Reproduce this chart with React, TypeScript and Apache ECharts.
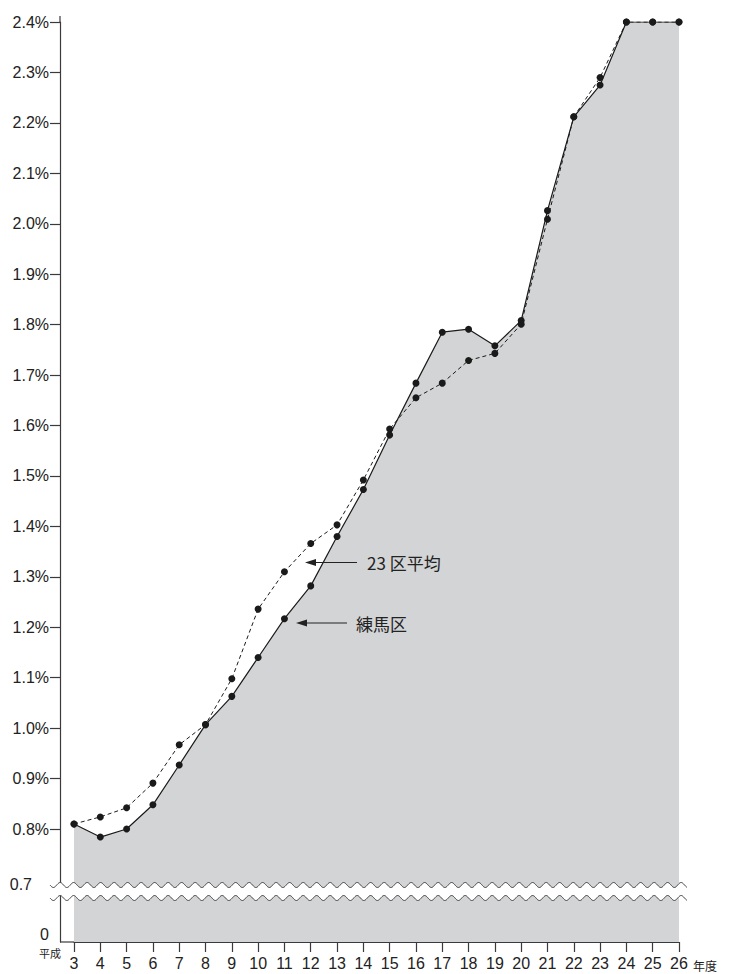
import React, { useEffect, useRef } from 'react';
import * as echarts from 'echarts';

const years = ['3', '4', '5', '6', '7', '8', '9', '10', '11', '12', '13', '14', '15', '16', '17', '18', '19', '20', '21', '22', '23', '24', '25', '26'];

// 練馬区 (solid line, shaded)
const nerima = [0.810, 0.784, 0.800, 0.848, 0.927, 1.007, 1.063, 1.140, 1.217, 1.282, 1.380, 1.473, 1.581, 1.684, 1.785, 1.791, 1.758, 1.808, 2.026, 2.212, 2.275, 2.400, 2.400, 2.400];

// 23区平均 (dashed line)
const ku23avg = [0.810, 0.824, 0.842, 0.891, 0.967, 1.007, 1.098, 1.236, 1.310, 1.366, 1.403, 1.492, 1.593, 1.655, 1.684, 1.729, 1.743, 1.801, 2.009, 2.212, 2.290, 2.400, 2.400, 2.400];

const yTickValues = [0.8, 0.9, 1.0, 1.1, 1.2, 1.3, 1.4, 1.5, 1.6, 1.7, 1.8, 1.9, 2.0, 2.1, 2.2, 2.3, 2.4];
const yTickTexts = ['0.8%', '0.9%', '1.0%', '1.1%', '1.2%', '1.3%', '1.4%', '1.5%', '1.6%', '1.7%', '1.8%', '1.9%', '2.0%', '2.1%', '2.2%', '2.3%', '2.4%'];
// labels below the axis break (position on the broken scale, text)
const breakLabelValues = [0.59, 0.69];
const breakLabelTexts = ['0', '0.7'];

const Y_MIN = 0.576;
const Y_MAX = 2.4;

const FONT = '"Liberation Sans", "Noto Sans CJK JP", sans-serif';
const JP_FONT = '"Noto Sans CJK JP", "Liberation Sans", sans-serif';

function wave(x0: number, x1: number, yc: number, amp: number, period: number) {
  const pts: number[][] = [];
  for (let x = x0; x <= x1; x += 0.5) {
    pts.push([x, yc + amp * Math.sin((2 * Math.PI * (x - x0)) / period)]);
  }
  return pts;
}

export default function App() {
  const ref = useRef<HTMLDivElement>(null);
  useEffect(() => {
    const chart = echarts.init(ref.current as HTMLDivElement, null, { renderer: 'svg' });
    const labelValues = [...breakLabelValues, ...yTickValues];
    const labelTexts = [...breakLabelTexts, ...yTickTexts];
    const upper = wave(50, 687, 885, 2.5, 13.5);
    const lower = wave(50, 687, 898, 2.5, 13.5);
    const band = [...upper, ...lower.slice().reverse()];
    const ink = '#222';
    const axisColor = '#3a3a3a';

    chart.setOption({
      animation: false,
      backgroundColor: '#fff',
      textStyle: { fontFamily: FONT },
      grid: { left: 74, right: 59, top: 22, bottom: 32, containLabel: false, outerBoundsMode: 'none' },
      xAxis: {
        type: 'category',
        data: years,
        boundaryGap: false,
        axisLine: { show: true, onZero: false, lineStyle: { color: axisColor, width: 1.2 } },
        axisTick: { show: true, length: 10, interval: 0, lineStyle: { color: axisColor, width: 1.2 } },
        axisLabel: { interval: 0, margin: 13, fontSize: 16, color: ink, fontFamily: FONT },
        splitLine: { show: false },
      },
      yAxis: {
        type: 'value',
        min: Y_MIN,
        max: Y_MAX,
        offset: 14,
        axisLine: { show: true, lineStyle: { color: axisColor, width: 1.2 } },
        axisTick: { show: true, length: 10, customValues: yTickValues, lineStyle: { color: axisColor, width: 1.2 } },
        axisLabel: {
          customValues: labelValues,
          margin: 11,
          fontSize: 16,
          color: ink,
          fontFamily: FONT,
          formatter: (v: number) => {
            const i = labelValues.findIndex((u) => Math.abs(u - v) < 1e-6);
            const t = i >= 0 ? labelTexts[i] : '';
            return t === '0.7' ? `{b|${t}}` : t;
          },
          rich: {
            b: { padding: [0, 17, 0, 0], fontSize: 16, color: ink, fontFamily: FONT },
          },
        },
        splitLine: { show: false },
      },
      series: [
        {
          name: '練馬区',
          type: 'line',
          data: nerima,
          symbol: 'circle',
          symbolSize: 7,
          showSymbol: true,
          showAllSymbol: true,
          itemStyle: { color: '#1a1a1a' },
          lineStyle: { color: '#1a1a1a', width: 1.2 },
          areaStyle: { color: '#d3d4d6', opacity: 1, origin: 'start' },
          z: 2,
        },
        {
          name: '23区平均',
          type: 'line',
          data: ku23avg,
          symbol: 'circle',
          symbolSize: 7,
          showSymbol: true,
          showAllSymbol: true,
          itemStyle: { color: '#1a1a1a' },
          lineStyle: { color: '#1a1a1a', width: 1, type: [4, 3] },
          z: 3,
        },
      ],
      graphic: [
        { type: 'polygon', shape: { points: band }, style: { fill: '#fff' }, z: 100 },
        { type: 'polyline', shape: { points: upper }, style: { stroke: axisColor, lineWidth: 1, fill: null }, z: 101 },
        { type: 'polyline', shape: { points: lower }, style: { stroke: axisColor, lineWidth: 1, fill: null }, z: 101 },
        { type: 'line', shape: { x1: 60, y1: 942, x2: 74, y2: 942 }, style: { stroke: axisColor, lineWidth: 1.2 }, z: 101 },
        { type: 'line', shape: { x1: 60, y1: 16, x2: 60, y2: 22 }, style: { stroke: axisColor, lineWidth: 1.2 }, z: 101 },
        // arrow: 23区平均
        { type: 'line', shape: { x1: 357, y1: 562.5, x2: 314, y2: 562.5 }, style: { stroke: ink, lineWidth: 1.2 }, z: 102 },
        { type: 'polygon', shape: { points: [[305, 562.5], [316, 559], [316, 566]] }, style: { fill: ink }, z: 102 },
        { type: 'text', x: 367, y: 562.5, style: { text: '23 区平均', fontSize: 17, fill: ink, fontFamily: JP_FONT, verticalAlign: 'middle', align: 'left' }, z: 102 },
        // arrow: 練馬区
        { type: 'line', shape: { x1: 347, y1: 623, x2: 305, y2: 623 }, style: { stroke: ink, lineWidth: 1.2 }, z: 102 },
        { type: 'polygon', shape: { points: [[296, 623], [307, 619.5], [307, 626.5]] }, style: { fill: ink }, z: 102 },
        { type: 'text', x: 356, y: 623, style: { text: '練馬区', fontSize: 17, fill: ink, fontFamily: JP_FONT, verticalAlign: 'middle', align: 'left' }, z: 102 },
        // era / unit labels
        { type: 'text', x: 50, y: 953, style: { text: '平成', fontSize: 11, fill: ink, fontFamily: JP_FONT, verticalAlign: 'middle', align: 'center' }, z: 102 },
        { type: 'text', x: 693, y: 965, style: { text: '年度', fontSize: 12, fill: ink, fontFamily: JP_FONT, verticalAlign: 'middle', align: 'left' }, z: 102 },
      ],
    });
    return () => chart.dispose();
  }, []);
  return <div ref={ref} style={{ position: 'absolute', left: 0, top: 0, width: 738, height: 974 }} />;
}
